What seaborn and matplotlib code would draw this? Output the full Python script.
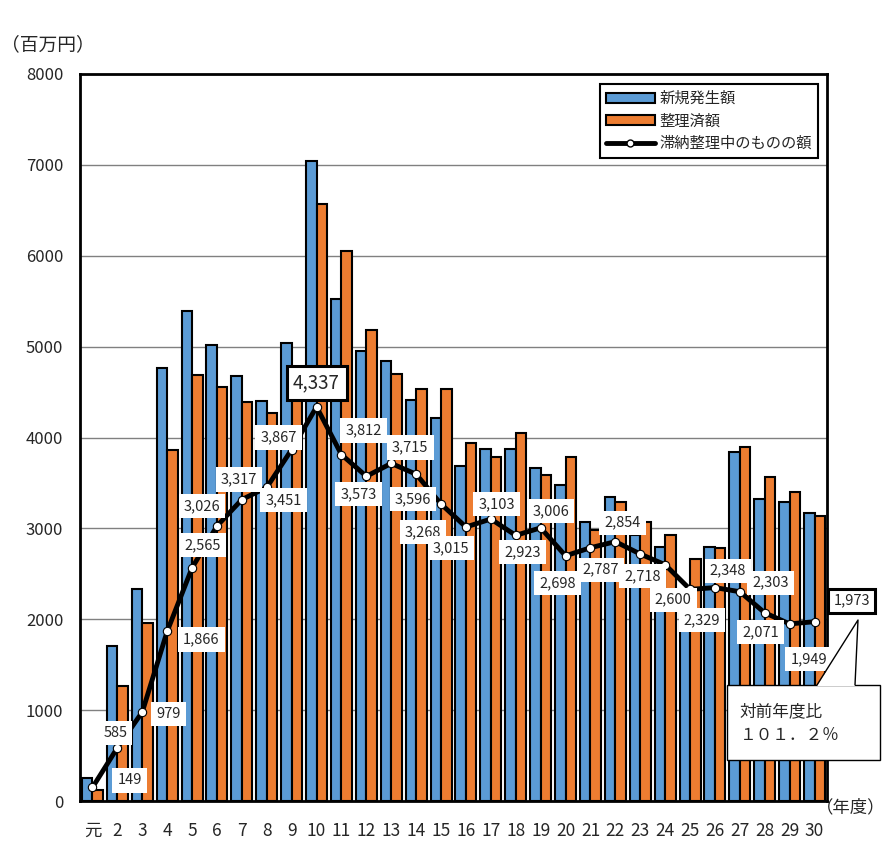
import numpy as np
import pandas as pd
import seaborn as sns
import matplotlib.pyplot as plt
from matplotlib.patches import Patch, Rectangle, Polygon
from matplotlib.lines import Line2D

# data (百万円)
years = ['元'] + [str(i) for i in range(2, 31)]
new_amount = [253, 1706, 2333, 4765, 5392, 5018, 4677, 4402, 5040, 7043,
              5524, 4952, 4842, 4413, 4215, 3686, 3873, 3873, 3664, 3477,
              3070, 3345, 2927, 2795, 2060, 2795, 3840, 3323, 3290, 3169]
settled_amount = [121, 1265, 1959, 3862, 4688, 4556, 4391, 4270, 4633, 6570,
                  6052, 5183, 4699, 4534, 4534, 3940, 3785, 4050, 3587, 3785,
                  2982, 3290, 3070, 2927, 2663, 2784, 3895, 3565, 3400, 3136]
pending_amount = [149, 585, 979, 1866, 2565, 3026, 3317, 3451, 3867, 4337,
                  3812, 3573, 3715, 3596, 3268, 3015, 3103, 2923, 3006, 2698,
                  2787, 2854, 2718, 2600, 2329, 2348, 2303, 2071, 1949, 1973]
series_names = ['新規発生額', '整理済額', '滞納整理中のものの額']

# label offsets in pixels (dx, dy)
label_offsets = [(37, 7), (-2, 15), (26, -2), (34, -8), (11, 23), (-15, 20), (-3, 20),
                 (17, -13), (-13, 12), (0, 24), (22, 24), (-8, -18), (19, 16), (-3, -25),
                 (-18, -28), (-15, -21), (6, 15), (7, -17), (10, 17), (-8, -27),
                 (10, -22), (7, 19), (2, -22), (8, -35), (12, -31), (13, 17),
                 (31, 9), (-4, -19), (19, -35), (37, 21)]

blue = '#5B9BD5'
orange = '#ED7D31'

sns.set_style('white')
plt.rcParams['font.family'] = ['Noto Sans CJK JP', 'DejaVu Sans']

df = pd.DataFrame({
    'year': years * 2,
    'series': [series_names[0]] * len(years) + [series_names[1]] * len(years),
    'value': new_amount + settled_amount,
})

fig = plt.figure(figsize=(8.86, 8.49), dpi=100)
ax = fig.add_axes([80 / 886, 48 / 849, 747 / 886, 727 / 849])

sns.barplot(data=df, x='year', y='value', hue='series', palette=[blue, orange],
            width=0.84, edgecolor='black', linewidth=1.5, saturation=1,
            legend=False, ax=ax, zorder=2)

xs = np.arange(len(years))
ax.plot(xs, pending_amount, color='black', lw=3.5, zorder=4,
        marker='o', markersize=6, markerfacecolor='white', markeredgecolor='black',
        markeredgewidth=0.8)

for i, (v, off) in enumerate(zip(pending_amount, label_offsets)):
    big = (i == 9)
    boxed = i in (9, len(years) - 1)
    ax.annotate(f'{v:,}', (xs[i], v), xytext=off, textcoords='offset pixels',
                ha='center', va='center', fontsize=13.5 if big else 10.5, zorder=6,
                bbox=dict(boxstyle='square,pad=0.35', fc='white',
                          ec='black' if boxed else 'none', lw=2.2))

ax.set_ylim(0, 8000)
ax.set_xlim(-0.5, len(years) - 0.5)
ax.set_yticks(range(0, 8001, 1000))
ax.yaxis.grid(True, color='#808080', lw=1)
ax.set_axisbelow(True)
ax.tick_params(axis='y', length=0, pad=12, labelsize=12)
ax.tick_params(axis='x', length=0, pad=15, labelsize=12.5)
ax.set_xlabel('')
ax.set_ylabel('')
for s in ax.spines.values():
    s.set_visible(True)
    s.set_color('black')
    s.set_linewidth(2)

# legend
handles = [Patch(facecolor=blue, edgecolor='black', lw=1.5),
           Patch(facecolor=orange, edgecolor='black', lw=1.5),
           Line2D([0], [0], color='black', lw=3.5, marker='o', markersize=5,
                  markerfacecolor='white', markeredgecolor='black')]
leg = ax.legend(handles, series_names, loc='upper right',
                bbox_to_anchor=((818 - 80) / 747, (801 - 84) / 727),
                borderaxespad=0, fontsize=11, frameon=True, fancybox=False,
                framealpha=1, edgecolor='black', handlelength=3.2, handleheight=0.6,
                borderpad=0.4, labelspacing=0.35, handletextpad=0.3)
leg.get_frame().set_linewidth(1.5)
leg.set_zorder(7)

fig.text(48 / 886, 1 - 45 / 849, '（百万円）', ha='center', va='center', fontsize=13.5)
fig.text(851 / 886, 1 - 807 / 849, '（年度）', ha='center', va='center', fontsize=12.5)

# callout
W, H = 886, 849
rect = Rectangle((727 / W, 1 - 760 / H), 153 / W, 75 / H, transform=fig.transFigure,
                 fc='white', ec='black', lw=1, zorder=8)
fig.patches.append(rect)
wedge = Polygon([(817 / W, 1 - 686 / H), (858 / W, 1 - 620 / H), (855 / W, 1 - 686 / H)],
                closed=True, transform=fig.transFigure, fc='white', ec='none', zorder=9)
fig.patches.append(wedge)
fig.lines.append(Line2D([817 / W, 858 / W, 855 / W], [1 - 685 / H, 1 - 620 / H, 1 - 685 / H],
                        transform=fig.transFigure, color='black', lw=1, zorder=10))
fig.text(740 / W, 1 - 712 / H, '対前年度比', ha='left', va='center', fontsize=12, zorder=11)
fig.text(740 / W, 1 - 736 / H, '１０１．２％', ha='left', va='center', fontsize=12, zorder=11)

fig.savefig('out.png', dpi=100)
